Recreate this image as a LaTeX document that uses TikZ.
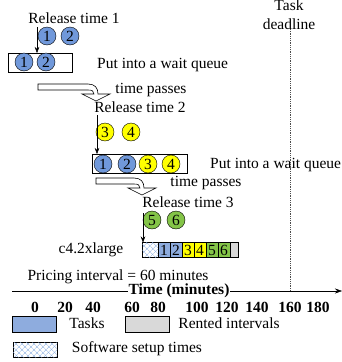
\documentclass[tikz,border=0pt]{standalone}
\usepackage{fontspec}
\setmainfont{Liberation Serif}
\usepackage{tikz}
\usetikzlibrary{positioning, arrows.meta, patterns.meta}

\definecolor{jobblue}{RGB}{112,152,218}
\definecolor{cellblue}{RGB}{142,172,222}
\definecolor{jobyellow}{RGB}{255,255,0}
\definecolor{jobgreen}{RGB}{132,196,72}
\definecolor{rentgrey}{RGB}{217,217,217}
\definecolor{hatchblue}{RGB}{140,175,225}

\begin{document}
\begin{tikzpicture}[
        x=1pt, y=-1pt,
        font=\fontsize{15.5}{17}\selectfont,
        node distance=0pt,
        label/.style={inner sep=0pt},
        tick/.style={inner sep=0pt, font=\fontsize{15.5}{17}\selectfont\bfseries},
        job/.style={
          circle,
          draw=black,
          inner sep=0pt,
          minimum size=18pt
        },
        queue/.style={
          rectangle,
          draw=black,
          semithick
        },
        cell/.style={
          rectangle,
          draw=black,
          inner sep=0pt,
          outer sep=0pt,
          minimum width=12pt,
          minimum height=15pt
        },
        setup/.style={
          draw=black,
          pattern={Lines[angle=45, distance=4pt, line width=0.5pt]},
          pattern color=hatchblue,
          postaction={pattern={Lines[angle=-45, distance=4pt, line width=0.5pt]}, pattern color=hatchblue}
        },
        arrow/.style={
          -{Stealth[length=6pt, width=4.5pt]},
          draw=black
        },
        passarrow/.style={
          draw=black,
          line width=0.6pt,
          fill=white
        }
      ]
      \useasboundingbox (0,0) rectangle (342,362);

      % Release 1
      \node [label] (rel1) at (74,18) {Release time 1};
      \node [job, fill=jobblue] (j1) at (47,36) {1};
      \node [job, fill=jobblue] (j2) at (70,36) {2};
      \draw [queue] (8,53) rectangle (72,72);
      \coordinate (q1) at (8,53);
      \node [job, fill=jobblue] (q1a) at (24,62) {1};
      \node [job, fill=jobblue] (q1b) at (46,62) {2};
      \node [label, anchor=west] (wait1) at (97,65) {Put into a wait queue};
      \coordinate (a1) at (37,27);
      \draw [arrow] (a1) -- (a1 |- q1);

      % Time passes
      \draw [passarrow] (38,84) -- (88,84) .. controls (95,84) and (98,88) .. (98,94)
        -- (110,94) -- (96,101) -- (82,94) -- (94,94)
        .. controls (94,91) and (92,90) .. (88,90) -- (38,90) -- cycle;
      \node [label] (pass1) at (151,90) {time passes};

      % Release 2
      \node [label] (rel2) at (140,107) {Release time 2};
      \node [job, fill=jobyellow] (j3) at (105,132) {3};
      \node [job, fill=jobyellow] (j4) at (131,132) {4};
      \draw [queue] (92,154) rectangle (187,173);
      \coordinate (q2) at (92,154);
      \node [job, fill=jobblue] (q2a) at (103,164) {1};
      \node [job, fill=jobblue] (q2b) at (127,164) {2};
      \node [job, fill=jobyellow] (q2c) at (148,164) {3};
      \node [job, fill=jobyellow] (q2d) at (171,164) {4};
      \node [label, anchor=west] (wait2) at (210,165) {Put into a wait queue};
      \coordinate (a2) at (97,115);
      \draw [arrow] (a2) -- (a2 |- q2);

      % Time passes
      \draw [passarrow] (96,178) -- (134,178) .. controls (141,178) and (144,182) .. (144,188)
        -- (156,188) -- (142,195) -- (128,188) -- (140,188)
        .. controls (140,185) and (138,184) .. (134,184) -- (96,184) -- cycle;
      \node [label] (pass2) at (206,183) {time passes};

      % Release 3
      \node [label] (rel3) at (188,202) {Release time 3};
      \node [job, fill=jobgreen] (j5) at (152,220) {5};
      \node [job, fill=jobgreen] (j6) at (176,220) {6};

      % Instance
      \node [label] (vm) at (91,250) {c4.2xlarge};
      \node [cell, setup, minimum width=16pt, anchor=west] (s0) at (142,250) {};
      \node [cell, fill=cellblue, right=of s0] (c1) {1};
      \node [cell, fill=cellblue, right=of c1] (c2) {2};
      \node [cell, fill=jobyellow, right=of c2] (c3) {3};
      \node [cell, fill=jobyellow, right=of c3] (c4) {4};
      \node [cell, fill=jobgreen, right=of c4] (c5) {5};
      \node [cell, fill=jobgreen, right=of c5] (c6) {6};
      \node [cell, fill=rentgrey, minimum width=8pt, right=of c6] (c7) {};
      \coordinate (a3) at (143,213);
      \draw [arrow] (a3) -- (a3 |- s0.north);

      % Axis
      \node [label] (price) at (118,277) {Pricing interval = 60 minutes};
      \coordinate (ax0) at (12,291);
      \coordinate (ax1) at (342,291);
      \draw [-{Stealth[length=7pt, width=5pt]}] (ax0) -- (ax1);
      \coordinate (dl0) at (290,29);
      \draw [densely dotted, thick, black!70] (dl0) -- (dl0 |- ax0);
      \node [label, align=center, font=\fontsize{15.5}{19}\selectfont] (dl) at (289,15) {Task\\deadline};
      \node [tick, fill=white, inner xsep=1pt] (tm) at (179,291) {Time (minutes)};

      % Ticks
      \node [tick] (t0) at (35,307) {0};
      \node [tick] (t20) at (65,307) {20};
      \node [tick] (t40) at (93,307) {40};
      \node [tick] (t60) at (132,307) {60};
      \node [tick] (t80) at (158,307) {80};
      \node [tick] (t100) at (197,307) {100};
      \node [tick] (t120) at (227,307) {120};
      \node [tick] (t140) at (257,307) {140};
      \node [tick] (t160) at (290,307) {160};
      \node [tick] (t180) at (318,307) {180};

      % Legend
      \draw [fill=cellblue] (12,316) rectangle (56,332);
      \node [label] (lg1) at (87,323) {Tasks};
      \draw [fill=rentgrey] (125,316) rectangle (169,332);
      \node [label] (lg2) at (229,323) {Rented intervals};
      \draw [setup] (13,342) rectangle (57,357);
      \node [label] (lg3) at (137,349) {Software setup times};

    \end{tikzpicture}
\end{document}
